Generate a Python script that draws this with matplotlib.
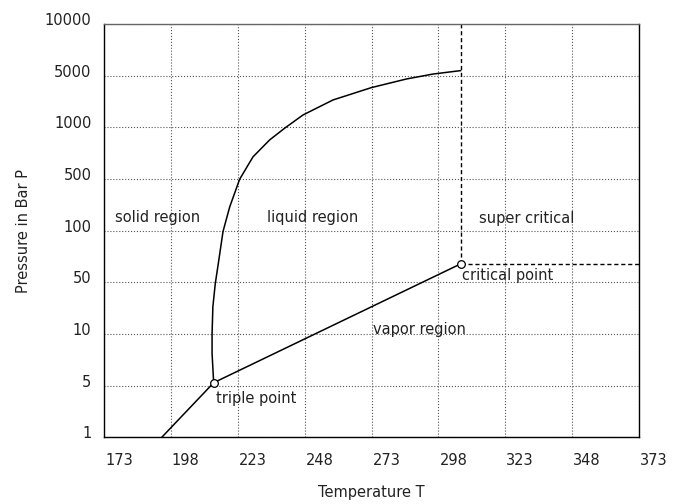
import matplotlib
matplotlib.use('Agg')
import matplotlib.pyplot as plt
import matplotlib.transforms as mtransforms
import numpy as np

plt.rcParams['font.family'] = ['DejaVu Sans']

# axis ticks
temp_ticks = [173, 198, 223, 248, 273, 298, 323, 348, 373]
pressure_ticks = [1, 5, 10, 50, 100, 500, 1000, 5000, 10000]

# sublimation line (bottom edge -> triple point)
sublim_t = [194.6, 214.0]
sublim_p = [1, 5.2]

# vaporisation line (triple point -> critical point)
vapor_t = [214.0, 306.3]
vapor_p = [5.2, 64]

# melting curve
melt_t = [214.0, 213.4, 213.4, 213.7, 214.6, 215.9, 217.5, 220.0, 223.7,
          228.7, 234.9, 240.6, 247.4, 258.6, 273.0, 286.1, 296.0, 306.3]
melt_p = [5.2, 7.7, 10, 23.4, 48, 67, 99, 210, 495,
          673, 844, 990, 1470, 2345, 3450, 4510, 5110, 5350]

triple_t, triple_p = 214.0, 5.2
critical_t, critical_p = 306.3, 64

# the pressure axis puts every tick at equal spacing (piecewise log)
log_ticks = np.log10(pressure_ticks)
tick_idx = np.arange(len(pressure_ticks), dtype=float)


def p_forward(p):
    p = np.clip(np.asarray(p, dtype=float), 1e-6, None)
    return np.interp(np.log10(p), log_ticks, tick_idx)


def p_inverse(i):
    return 10 ** np.interp(np.asarray(i, dtype=float), tick_idx, log_ticks)


fig = plt.figure(figsize=(6.81, 5.04), dpi=100)
ax = fig.add_axes([104 / 681, 1 - 437.3 / 504, 535 / 681, 413.3 / 504])

ax.set_yscale('function', functions=(p_forward, p_inverse))
ax.set_xlim(173, 373)
ax.set_ylim(1, 10000)

ax.set_xticks(temp_ticks)
ax.set_xticklabels([str(t) for t in temp_ticks])
ax.set_yticks(pressure_ticks)
ax.set_yticklabels([str(p) for p in pressure_ticks])
ax.minorticks_off()
ax.tick_params(length=0, labelsize=10.5, colors='#222222')
ax.tick_params(axis='x', pad=11)
ax.tick_params(axis='y', pad=9)

# x labels start at the grid line, y labels sit a little above it
for lab in ax.get_xticklabels():
    lab.set_ha('left')
    lab.set_transform(lab.get_transform() +
                      mtransforms.ScaledTranslation(1 / 100, 0, fig.dpi_scale_trans))
for lab in ax.get_yticklabels():
    lab.set_transform(lab.get_transform() +
                      mtransforms.ScaledTranslation(0, 5 / 100, fig.dpi_scale_trans))

ax.grid(True, linestyle=':', linewidth=0.8, color='#555555')
ax.set_axisbelow(True)
for side in ['left', 'bottom', 'right']:
    ax.spines[side].set_color('black')
    ax.spines[side].set_linewidth(1.0)
ax.spines['top'].set_color('#666666')
ax.spines['top'].set_linewidth(1.0)

# phase boundaries
ax.plot(sublim_t, sublim_p, color='black', lw=1.1)
ax.plot(vapor_t, vapor_p, color='black', lw=1.1)
ax.plot(melt_t, melt_p, color='black', lw=1.1, solid_joinstyle='round')

# super critical limits
ax.plot([critical_t, critical_t], [critical_p, 10000], color='black', lw=1,
        linestyle=(0, (3, 2)))
ax.plot([critical_t, 373], [critical_p, critical_p], color='black', lw=1,
        linestyle=(0, (3, 2)))

ax.plot([triple_t, critical_t], [triple_p, critical_p], linestyle='none',
        marker='o', markersize=5.5, markerfacecolor='white',
        markeredgecolor='black', markeredgewidth=0.9, zorder=5)

txt = dict(fontsize=10.5, color='#222222', va='center', ha='left')
ax.text(177.0, 150, 'solid region', **txt)
ax.text(233.8, 150, 'liquid region', **txt)
ax.text(313.2, 145, 'super critical', **txt)
ax.text(307.0, 54.7, 'critical point', **txt)
ax.text(273.4, 11.6, 'vapor region', **txt)
ax.text(215.0, 3.38, 'triple point', **txt)

fig.text(371.5 / 681, 1 - 493 / 504, 'Temperature T', ha='center', va='center',
         fontsize=10.5, color='#222222')
fig.text(24 / 681, 1 - 230.6 / 504, 'Pressure in Bar P', ha='center', va='center',
         rotation=90, fontsize=10.5, color='#222222')

fig.savefig('out.png', dpi=100)
